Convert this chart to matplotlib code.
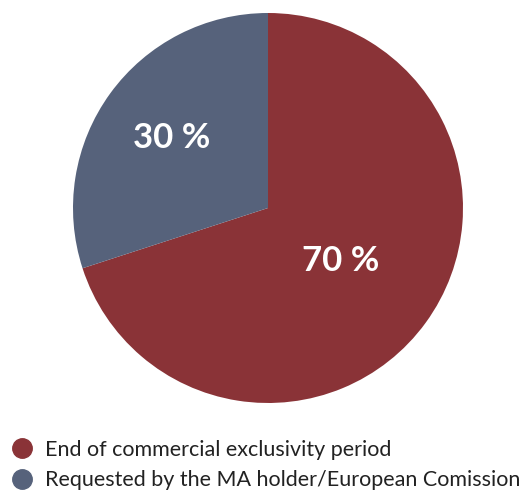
import numpy as np
import matplotlib.pyplot as plt
from matplotlib.lines import Line2D

plt.rcParams['font.family'] = ['Lato', 'DejaVu Sans']

labels = ['End of commercial exclusivity period',
          'Requested by the MA holder/European Comission']
shares = [70, 30]
colors = ['#8a3337', '#56627b']

fig = plt.figure(figsize=(5.26, 4.91), dpi=100)
ax = fig.add_axes([73 / 526, 88 / 491, 390 / 526, 390 / 491])

wedges, _ = ax.pie(shares, colors=colors, startangle=90, counterclock=False,
                   wedgeprops=dict(linewidth=0))
ax.set_xlim(-1, 1)
ax.set_ylim(-1, 1)

# percentage labels at the middle angle of each wedge
dists = [0.46, 0.61]
for w, s, d in zip(wedges, shares, dists):
    mid = np.deg2rad((w.theta1 + w.theta2) / 2)
    ax.text(d * np.cos(mid), d * np.sin(mid), f'{s} %', color='white',
            fontsize=25, fontweight='bold', ha='center', va='center')

handles = [Line2D([], [], marker='o', linestyle='', markersize=14,
                  markerfacecolor=c, markeredgecolor=c) for c in colors]
fig.legend(handles, labels, loc='upper left', bbox_to_anchor=(0.0, 0.122),
           frameon=False, fontsize=15.5, handletextpad=0.5, labelspacing=0.48,
           borderaxespad=0, handlelength=1.2, labelcolor='#222222')

fig.savefig('out.png', dpi=100)
